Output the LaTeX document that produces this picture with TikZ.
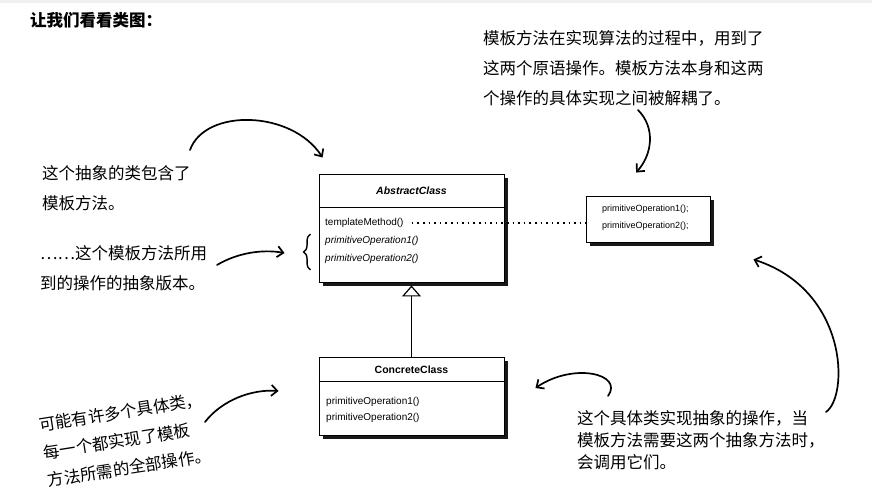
\documentclass[tikz,border=0pt]{standalone}
\usepackage{fontspec}
\setmainfont{Liberation Sans}
\newfontfamily\cjk{Noto Sans CJK SC}
\usetikzlibrary{positioning,shadows,arrows.meta,decorations.pathreplacing}
\tikzset {
    style class/.style={
        draw=black,
        fill=white,
        line width=0.9pt,
        rectangle, % box of a class
        drop shadow={shadow xshift=3.5pt, shadow yshift=-3.5pt, fill=black, opacity=0.9},
    },
    style head/.style={
        font=\fontsize{10.5}{12}\selectfont\bfseries,
        inner sep=0pt,
    },
    style op/.style={
        font=\fontsize{10}{12}\selectfont,
        anchor=west,
        inner sep=0pt,
    },
    style note/.style={
        font=\cjk\fontsize{16.5}{30}\selectfont,
        align=left,
        anchor=north west,
        inner sep=0pt,
    },
    style hand/.style={
        line width=1.7pt,
        line cap=round,
        -{Straight Barb[length=6pt,width=11pt]},
    },
}

\begin{document}
\begin{tikzpicture}
[x=1pt, y=-1pt]
\useasboundingbox (0,0) rectangle (872,500);
\fill[white] (0,0) rectangle (872,500);
\fill[gray!12] (0,0) rectangle (872,3);

\node[font=\cjk\bfseries\fontsize{16.5}{20}\selectfont, anchor=west, inner sep=0pt] at (30,20) (title) {让我们看看类图：};

% the classes
\node[style class, minimum width=185pt, minimum height=108pt] at (411.5,228) (abstract) {};
\draw[line width=0.9pt] ([yshift=-34pt]abstract.north west) -- ([yshift=-34pt]abstract.north east);
\node[style head, font=\fontsize{10.5}{12}\selectfont\bfseries\itshape] at (411.5,191) (absname) {AbstractClass};
\node[style op] at (325,223) (tm) {templateMethod()};
\node[style op, font=\fontsize{10}{12}\selectfont\itshape] at (325,241) (po1) {primitiveOperation1()};
\node[style op, font=\fontsize{10}{12}\selectfont\itshape] at (325,259) (po2) {primitiveOperation2()};

\node[style class, minimum width=124pt, minimum height=46pt] at (648,219) (prim) {};
\node[style op, font=\fontsize{9}{11}\selectfont] at (602,209) (pp1) {primitiveOperation1();};
\node[style op, font=\fontsize{9}{11}\selectfont] at (602,226) (pp2) {primitiveOperation2();};

\node[style class, minimum width=185pt, minimum height=78pt] at (411.5,396) (concrete) {};
\draw[line width=0.9pt] ([yshift=-25pt]concrete.north west) -- ([yshift=-25pt]concrete.north east);
\node[style head] at (411.5,370) (conname) {ConcreteClass};
\node[style op] at (326,402) (co1) {primitiveOperation1()};
\node[style op] at (326,418) (co2) {primitiveOperation2()};

\draw[line width=1.2pt, -{Triangle[open, length=11pt, width=19pt, line width=1.2pt]}] (concrete) -- ([yshift=-3pt]abstract.south);
\draw[line width=1.6pt, dash pattern=on 1.6pt off 4pt] ([xshift=8pt]tm.east) -- (prim.west |- tm.east);

% brace before the abstract operations
\coordinate (bt) at (po1.north -| abstract.west);
\coordinate (bb) at (po2.south -| abstract.west);
\draw[line width=1.4pt, decorate, decoration={brace, amplitude=7pt}] ([shift={(-8pt,-6pt)}]bb) -- ([shift={(-8pt,2pt)}]bt);

% notes
\node[style note] at (483,30) (noteop) {模板方法在实现算法的过程中，用到了\\这两个原语操作。模板方法本身和这两\\个操作的具体实现之间被解耦了。};
\node[style note] at (42,165) (notetm) {这个抽象的类包含了\\模板方法。};
\node[style note] at (40,245) (noteabs) {……这个模板方法所用\\到的操作的抽象版本。};
\node[style note, anchor=center, rotate=9, font=\cjk\fontsize{16.5}{28}\selectfont] at (125,440) (notemany) {可能有许多个具体类，\\每一个都实现了模板\\方法所需的全部操作。};
\node[style note, font=\cjk\fontsize{16.5}{22}\selectfont] at (577,410) (noteimpl) {这个具体类实现抽象的操作，当\\模板方法需要这两个抽象方法时，\\会调用它们。};

% hand drawn arrows
\coordinate (t1) at (190,150);
\coordinate (t2) at (217,265);
\coordinate (t3) at (205,422);
\coordinate (t4) at (608,396);
\coordinate (t5) at (826,412);
\coordinate (t6) at (638,110);
\draw[style hand] (t1) .. controls (205,108) and (292,110) .. ([shift={(4pt,16pt)}]abstract.north west);
\draw[style hand] (t2) .. controls (237,253) and (262,249) .. ([shift={(-34pt,-25pt)}]abstract.west);
\draw[style hand] (t3) .. controls (222,400) and (252,389) .. ([shift={(-40pt,5pt)}]concrete.west);
\draw[style hand] (t4) .. controls (624,374) and (574,362) .. ([shift={(31pt,8pt)}]concrete.east);
\draw[style hand] (t5) .. controls (849,396) and (848,290) .. ([shift={(43pt,-17pt)}]prim.south east);
\draw[style hand] (t6) .. controls (656,128) and (652,155) .. ([shift={(-12pt,23pt)}]prim.north);
\end{tikzpicture}
\end{document}
